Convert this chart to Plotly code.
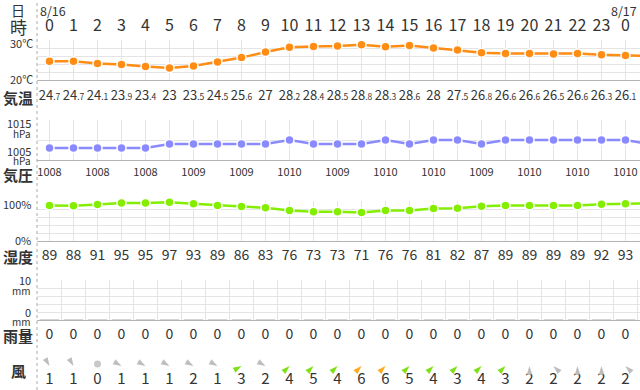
import plotly.graph_objects as go

W, H = 640, 390
FONT = "Noto Sans CJK JP"

# ---------------- data ----------------
hours = [0, 1, 2, 3, 4, 5, 6, 7, 8, 9, 10, 11, 12, 13, 14, 15, 16, 17, 18, 19, 20, 21, 22, 23, 24, 25]
hour_labels = ["0", "1", "2", "3", "4", "5", "6", "7", "8", "9", "10", "11", "12",
               "13", "14", "15", "16", "17", "18", "19", "20", "21", "22", "23", "0"]
temperature = [24.7, 24.7, 24.1, 23.9, 23.4, 23.0, 23.5, 24.5, 25.6, 27.0, 28.2, 28.4, 28.5,
               28.8, 28.3, 28.6, 28.0, 27.5, 26.8, 26.6, 26.6, 26.5, 26.6, 26.3, 26.1, 26.0]
pressure = [1008, 1008, 1008, 1008, 1008, 1009, 1009, 1009, 1009, 1009, 1010, 1009, 1009,
            1009, 1010, 1009, 1010, 1010, 1009, 1010, 1010, 1010, 1010, 1010, 1010, 1009]
humidity = [89, 88, 91, 95, 95, 97, 93, 89, 86, 83, 76, 73, 73, 71, 76, 76, 81, 82, 87, 89,
            89, 89, 89, 92, 93, 94]
rain = [0, 0, 0, 0, 0, 0, 0, 0, 0, 0, 0, 0, 0, 0, 0, 0, 0, 0, 0, 0, 0, 0, 0, 0, 0]
wind_speed = [1, 1, 0, 1, 1, 1, 2, 1, 3, 2, 4, 5, 4, 6, 6, 5, 4, 3, 4, 3, 2, 2, 2, 2, 2]
# direction the arrow points to (degrees clockwise from up); None = calm
wind_dir = [150, 150, None, 120, 120, 120, 120, 120, 60, 120, 45, 45, 45, 45, 45, 45, 45,
            45, 45, 45, 0, 315, 0, 0, 315]
date_labels = ["8/16", "8/17"]
row_labels = ["気温", "気圧", "湿度", "雨量", "風"]

# ---------------- colours ----------------
C_TEMP = "#ff8c14"
C_PRES = "#8a8aff"
C_HUM = "#84ee00"
C_GRID = "#e4e4e4"
C_AXIS = "#b4b4b4"
C_TEXT = "#333333"

# ---------------- geometry helpers ----------------
X_LEFT = 37.0
X0_PX, STEP = 49.5, 24.0
XRANGE = [(X_LEFT - X0_PX) / STEP, (W - X0_PX) / STEP]
XDOM = [X_LEFT / W, 1.0]


def ydom(top_px, bottom_px):
    return [1 - bottom_px / H, 1 - top_px / H]


def py(px):
    return 1 - px / H


def px_x(px):
    return px / W


def fmt_temp(v):
    s = f"{v:.1f}"
    ip, dp = s.split(".")
    if dp == "0":
        return ip
    return f"{ip}<span style='font-size:8.5px'>.{dp}</span>"


def wind_color(s):
    if s >= 6:
        return "#ffaa1e"
    if s >= 3:
        return "#7fe01a"
    return "#bdbdbd"


fig = go.Figure()

# temperature
fig.add_trace(go.Scatter(x=hours, y=temperature, mode="lines+markers", xaxis="x", yaxis="y",
                         line=dict(color=C_TEMP, width=2.5),
                         marker=dict(size=9, color=C_TEMP, line=dict(color="white", width=1.5)),
                         cliponaxis=False, hoverinfo="skip"))
# pressure
fig.add_trace(go.Scatter(x=hours, y=pressure, mode="lines+markers", xaxis="x2", yaxis="y2",
                         line=dict(color=C_PRES, width=2.5),
                         marker=dict(size=9, color=C_PRES, line=dict(color="white", width=1.5)),
                         cliponaxis=False, hoverinfo="skip"))
# humidity
fig.add_trace(go.Scatter(x=hours, y=humidity, mode="lines+markers", xaxis="x3", yaxis="y3",
                         line=dict(color=C_HUM, width=2.5),
                         marker=dict(size=9, color=C_HUM, line=dict(color="white", width=1.5)),
                         cliponaxis=False, hoverinfo="skip"))
# rain (zero bars shown as flat grey dashes)
fig.add_trace(go.Scatter(x=hours[:len(rain)], y=rain, mode="markers", xaxis="x4", yaxis="y4",
                         marker=dict(symbol="line-ew", size=14, color="#d6d6d6",
                                     line=dict(color="#d6d6d6", width=2)),
                         cliponaxis=False, hoverinfo="skip"))


# ----- text rows on an overlay axis (y in pixels) -----
def text_row(xs, ys, texts, size, color=C_TEXT):
    fig.add_trace(go.Scatter(x=xs, y=ys, text=texts, mode="text", xaxis="x5", yaxis="y5",
                             textfont=dict(family=FONT, size=size, color=color),
                             textposition="middle center", cliponaxis=False, hoverinfo="skip"))


text_row(hours[:len(hour_labels)], [27] * len(hour_labels), hour_labels, 16)
text_row(hours, [97] * len(hours), [fmt_temp(v) for v in temperature], 13)
text_row(hours[0::2], [173] * len(hours[0::2]), [str(v) for v in pressure[0::2]], 11)
text_row(hours, [256] * len(hours), [str(v) for v in humidity], 14)
text_row(hours[:len(rain)], [335] * len(rain), [str(v) for v in rain], 14)
text_row(hours[:len(wind_speed)], [380] * len(wind_speed), [str(v) for v in wind_speed], 15)

# wind arrows
ax_x = [h for h, d in zip(hours, wind_dir) if d is not None]
ax_d = [d for d in wind_dir if d is not None]
ax_c = [wind_color(s) for s, d in zip(wind_speed, wind_dir) if d is not None]
fig.add_trace(go.Scatter(x=ax_x, y=[366] * len(ax_x), mode="markers", xaxis="x5", yaxis="y5",
                         marker=dict(symbol="arrow", size=9, angle=ax_d, color=ax_c,
                                     line=dict(width=0)),
                         cliponaxis=False, hoverinfo="skip"))
calm_x = [h for h, d in zip(hours, wind_dir) if d is None]
fig.add_trace(go.Scatter(x=calm_x, y=[364] * len(calm_x), mode="markers", xaxis="x5", yaxis="y5",
                         marker=dict(symbol="circle", size=7, color="#c8c8c8"),
                         cliponaxis=False, hoverinfo="skip"))


# ---------------- axes ----------------
def xax(tick0, anchor, show_line=True):
    return dict(domain=XDOM, range=XRANGE, anchor=anchor, showticklabels=False, ticks="",
                showgrid=True, gridcolor=C_GRID, gridwidth=1, tick0=tick0, dtick=1,
                zeroline=False, showline=show_line, linecolor=C_AXIS, linewidth=1, fixedrange=True)


def yax(rng, dom, dtick, anchor):
    return dict(domain=dom, range=rng, anchor=anchor, showticklabels=False, ticks="",
                showgrid=True, gridcolor=C_GRID, gridwidth=1, tick0=rng[0], dtick=dtick,
                zeroline=False, showline=False, fixedrange=True)


layout = dict(
    width=W, height=H, margin=dict(l=0, r=0, t=0, b=0),
    paper_bgcolor="white", plot_bgcolor="rgba(0,0,0,0)", showlegend=False,
    font=dict(family=FONT, color=C_TEXT),
    xaxis=xax(0, "y"), yaxis=yax([20, 30], ydom(40, 80), 2, "x"),
    xaxis2=xax(0, "y2"), yaxis2=yax([1005, 1015], ydom(120, 160), 5, "x2"),
    xaxis3=xax(0, "y3"), yaxis3=yax([0, 100], ydom(201, 241), 20, "x3"),
    xaxis4=xax(0.5, "y4"), yaxis4=yax([0, 10], ydom(280, 320), 2, "x4"),
    xaxis5=dict(domain=XDOM, range=XRANGE, anchor="y5", visible=False, fixedrange=True),
    yaxis5=dict(domain=[0, 1], range=[H, 0], anchor="x5", visible=False, fixedrange=True),
)
fig.update_layout(**layout)

# left dotted separator
fig.add_shape(type="line", xref="paper", yref="paper", x0=X_LEFT / W, x1=X_LEFT / W, y0=0, y1=1,
              line=dict(color="#aaaaaa", width=1, dash="dot"))


# ---------------- labels ----------------
def ann(text, xpx, ypx, size, xanchor="center", bold=False):
    if bold:
        text = f"<b>{text}</b>"
    fig.add_annotation(text=text, x=px_x(xpx), y=py(ypx), xref="paper", yref="paper",
                       showarrow=False, xanchor=xanchor, yanchor="middle",
                       font=dict(family=FONT, size=size, color=C_TEXT))


ann("日", 18, 10, 14)
ann("時", 18, 27, 17)
ann(date_labels[0], 38, 10, 12.5, xanchor="left")
ann(date_labels[1], 639, 10, 12.5, xanchor="right")

ann("30℃", 35, 43, 11, xanchor="right")
ann("20℃", 35, 79, 11, xanchor="right")
ann("1015", 33, 123, 11, xanchor="right")
ann("hPa", 33, 133, 10, xanchor="right")
ann("1005", 33, 151, 11, xanchor="right")
ann("hPa", 33, 160, 10, xanchor="right")
ann("100%", 33, 204, 11, xanchor="right")
ann("0%", 33, 240, 11, xanchor="right")
ann("10", 33, 280, 11, xanchor="right")
ann("mm", 33, 290, 10, xanchor="right")
ann("0", 33, 312, 11, xanchor="right")
ann("mm", 33, 321, 10, xanchor="right")

for lab, ypx in zip(row_labels, [97, 175, 256, 335, 370]):
    ann(lab, 18, ypx, 15, bold=True)

fig.write_html(
    "out.html",
    config={"displayModeBar": False},
    post_script="document.body.style.margin='0';document.body.style.overflow='hidden';",
)
